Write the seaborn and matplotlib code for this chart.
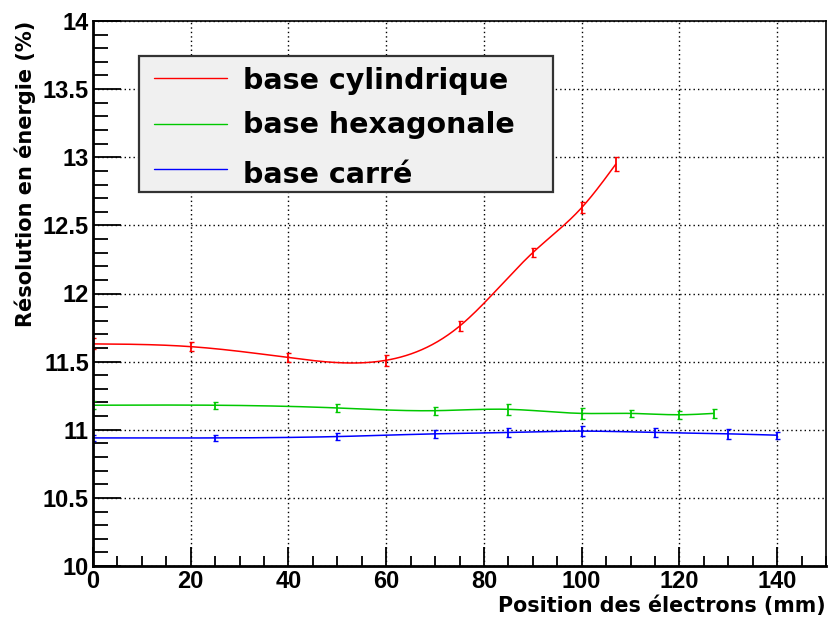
import numpy as np
import pandas as pd
import matplotlib
matplotlib.use('Agg')
import matplotlib.pyplot as plt
import seaborn as sns
from matplotlib.patches import Rectangle
from matplotlib.ticker import MultipleLocator

# données
x_cyl = [0, 20, 40, 60, 75, 90, 100, 107]
y_cyl = [11.63, 11.61, 11.53, 11.51, 11.76, 12.30, 12.63, 12.95]
e_cyl = [0.04, 0.035, 0.035, 0.04, 0.035, 0.035, 0.04, 0.05]

x_hex = [0, 25, 50, 70, 85, 100, 110, 120, 127]
y_hex = [11.18, 11.18, 11.16, 11.14, 11.15, 11.12, 11.12, 11.11, 11.12]
e_hex = [0.03, 0.025, 0.03, 0.03, 0.04, 0.04, 0.025, 0.03, 0.035]

x_car = [0, 25, 50, 70, 85, 100, 115, 130, 140]
y_car = [10.94, 10.94, 10.95, 10.97, 10.98, 10.99, 10.98, 10.97, 10.96]
e_car = [0.02, 0.025, 0.025, 0.03, 0.035, 0.035, 0.035, 0.035, 0.025]

labels = ['base cylindrique', 'base hexagonale', 'base carré']
couleurs = ['#ff0000', '#00c800', '#0000ff']


def courbe_lisse(x, y, n=300):
    # spline cubique naturelle (comme l'option "C" de ROOT)
    x = np.asarray(x, float)
    y = np.asarray(y, float)
    k = len(x)
    h = np.diff(x)
    A = np.zeros((k, k))
    b = np.zeros(k)
    A[0, 0] = 1
    A[-1, -1] = 1
    for i in range(1, k - 1):
        A[i, i - 1] = h[i - 1]
        A[i, i] = 2 * (h[i - 1] + h[i])
        A[i, i + 1] = h[i]
        b[i] = 6 * ((y[i + 1] - y[i]) / h[i] - (y[i] - y[i - 1]) / h[i - 1])
    M = np.linalg.solve(A, b)
    xs = np.linspace(x[0], x[-1], n)
    j = np.clip(np.searchsorted(x, xs) - 1, 0, k - 2)
    t0 = x[j + 1] - xs
    t1 = xs - x[j]
    hj = h[j]
    ys = (M[j] * t0 ** 3 + M[j + 1] * t1 ** 3) / (6 * hj) \
        + (y[j] / hj - M[j] * hj / 6) * t0 + (y[j + 1] / hj - M[j + 1] * hj / 6) * t1
    return xs, ys


sns.set_style('ticks')
plt.rcParams['font.family'] = ['Liberation Sans', 'DejaVu Sans']
for k in ['text.color', 'axes.labelcolor', 'xtick.color', 'ytick.color', 'axes.edgecolor']:
    plt.rcParams[k] = 'black'

W, H = 830, 624
fig = plt.figure(figsize=(W / 100, H / 100), dpi=100)
ax = fig.add_axes([93 / W, 1 - 566 / H, 733 / W, 545 / H])

series = [(x_cyl, y_cyl, e_cyl), (x_hex, y_hex, e_hex), (x_car, y_car, e_car)]
for (xx, yy, ee), lab, c in zip(series, labels, couleurs):
    xs, ys = courbe_lisse(xx, yy)
    df = pd.DataFrame({'x': xs, 'y': ys})
    sns.lineplot(data=df, x='x', y='y', ax=ax, color=c, linewidth=1.1, sort=False)
    ax.errorbar(xx, yy, yerr=ee, fmt='none', ecolor=c, elinewidth=1.3, capsize=1.8, capthick=1)

ax.set_xlim(0, 150)
ax.set_ylim(10, 14)
ax.xaxis.set_minor_locator(MultipleLocator(5))
ax.yaxis.set_minor_locator(MultipleLocator(0.1))
ax.set_xticks(np.arange(0, 141, 20))
ax.set_xticklabels([str(v) for v in range(0, 141, 20)])
ax.set_yticks(np.arange(10, 14.01, 0.5))
ax.set_yticklabels(['10', '10.5', '11', '11.5', '12', '12.5', '13', '13.5', '14'])
ax.set_xlabel('')
ax.set_ylabel('')

ax.grid(True, which='major', color='black', linestyle=(0, (1, 2.2)), linewidth=1.0)
ax.tick_params(axis='x', which='major', direction='in', length=14, width=1.3, labelsize=17, pad=3)
ax.tick_params(axis='x', which='minor', direction='in', length=7, width=1.3)
ax.tick_params(axis='y', which='major', direction='in', length=20, width=1.3, labelsize=17, pad=3)
ax.tick_params(axis='y', which='minor', direction='in', length=11, width=1.3)
for s in ['left', 'bottom']:
    ax.spines[s].set_linewidth(2)
for s in ['top', 'right']:
    ax.spines[s].set_linewidth(1.2)
for lab in ax.get_xticklabels() + ax.get_yticklabels():
    lab.set_fontweight('bold')

# titres des axes
fig.text(826 / W, 1 - 606 / H, 'Position des électrons (mm)', ha='right', va='center',
         fontsize=14.9, fontweight='bold', family='DejaVu Sans')
fig.text(25 / W, 1 - 21 / H, 'Résolution en énergie (%)', ha='center', va='top', rotation=90,
         fontsize=15, fontweight='bold', family='DejaVu Sans')

# légende (boîte à la ROOT)
fig.patches.append(Rectangle((139 / W, 1 - 192 / H), 414 / W, 136 / H, transform=fig.transFigure,
                             facecolor='#f0f0f0', edgecolor='#333333', linewidth=1.6, zorder=5))
for i, (lab, c) in enumerate(zip(labels, couleurs)):
    yl = [78, 124, 169][i]
    yt = [78, 122, 172][i]
    fig.add_artist(plt.Line2D([154 / W, 227 / W], [1 - yl / H, 1 - yl / H], color=c,
                              linewidth=1.0, transform=fig.transFigure, zorder=6))
    fig.text(243 / W, 1 - yt / H, lab, ha='left', va='center_baseline', fontsize=20.5,
             fontweight='bold', family='DejaVu Sans', zorder=6)

fig.savefig('out.png', dpi=100)
